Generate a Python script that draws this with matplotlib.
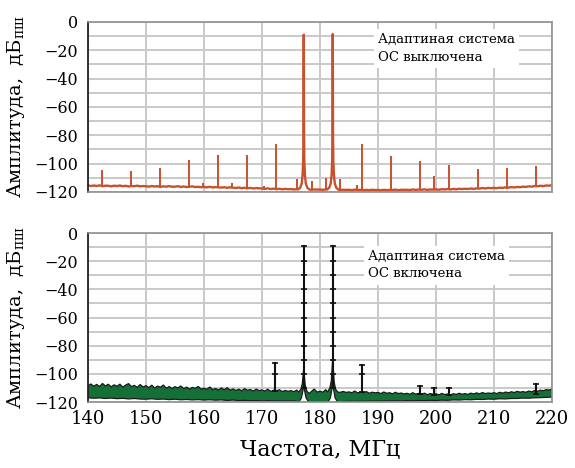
import numpy as np
import matplotlib
matplotlib.use('Agg')
import matplotlib.pyplot as plt
from matplotlib.ticker import MultipleLocator

plt.rcParams['font.family'] = ['DejaVu Serif']
plt.rcParams['mathtext.fontset'] = 'dejavuserif'

# --- данные: верхний график (ОС выключена) ---
freq_grid = np.arange(140.0, 220.01, 0.5)
floor_off = [
    -115.3, -115.9, -115.5, -115.8, -115.4, -116.0, -115.6, -115.7, -116.1, -115.6,
    -115.9, -115.5, -116.0, -115.7, -116.2, -115.8, -116.0, -115.6, -116.1, -115.9,
    -116.0, -116.3, -115.9, -116.2, -116.0, -116.4, -116.1, -116.3, -115.9, -116.4,
    -116.3, -116.0, -116.5, -116.2, -116.6, -116.3, -116.1, -116.6, -116.4, -116.7,
    -116.5, -116.8, -116.4, -116.9, -116.6, -116.8, -117.0, -116.7, -117.1, -116.8,
    -117.0, -117.3, -116.9, -117.4, -117.1, -117.5, -117.2, -117.6, -117.3, -117.5,
    -117.6, -117.9, -117.5, -118.0, -117.7, -118.1, -117.8, -118.2, -117.9, -118.1,
    -118.0, -118.3, -118.1, -118.4, -118.2, -118.4, -118.1, -118.5, -118.3, -118.4,
    -118.3, -118.6, -118.2, -118.5, -118.3, -118.6, -118.4, -118.7, -118.5, -118.6,
    -118.5, -118.8, -118.4, -118.7, -118.5, -118.9, -118.6, -118.8, -118.5, -118.7,
    -118.6, -118.9, -118.5, -118.8, -118.6, -118.7, -118.4, -118.8, -118.5, -118.6,
    -118.5, -118.7, -118.3, -118.6, -118.4, -118.5, -118.2, -118.6, -118.3, -118.4,
    -118.2, -118.5, -118.1, -118.3, -118.0, -118.3, -117.9, -118.2, -117.8, -118.0,
    -117.8, -118.0, -117.6, -117.9, -117.5, -117.7, -117.3, -117.6, -117.2, -117.4,
    -117.2, -117.4, -117.0, -117.2, -116.8, -117.0, -116.6, -116.9, -116.5, -116.7,
    -116.3, -116.5, -116.1, -116.3, -115.9, -116.0, -115.7, -115.9, -115.5, -115.6,
    -115.3,
]
spur_off_f = [142.4, 147.4, 152.4, 157.4, 159.8, 162.4, 164.8, 167.4, 170.3, 172.4,
              176.0, 178.6, 181.0, 183.4, 186.4, 187.2, 192.2, 197.2, 199.7, 202.2,
              207.2, 212.2, 217.2]
spur_off_db = [-104.5, -105.0, -103.0, -97.5, -114.0, -94.0, -113.5, -94.0, -116.0, -86.0,
               -111.0, -112.0, -110.0, -111.0, -115.0, -86.0, -94.5, -98.0, -109.0, -101.0,
               -104.0, -103.0, -102.0]
spur_off_base = [-116.5, -116.5, -117.0, -117.0, -117.0, -117.5, -117.5, -117.8, -118.0, -118.3,
                 -118.5, -118.8, -118.8, -118.8, -118.8, -118.8, -119.0, -119.0, -119.0, -118.8,
                 -118.3, -117.8, -116.8]
peak_off_f = [176.2, 176.6, 176.85, 177.0, 177.1, 177.15, 177.2, 177.25, 177.3, 177.4, 177.55, 177.8, 178.2,
              181.2, 181.6, 181.85, 182.0, 182.1, 182.15, 182.2, 182.25, 182.3, 182.4, 182.55, 182.8, 183.2]
peak_off_db = [-118.3, -117.0, -114.0, -108.0, -98.0, -80.0, -9.0, -80.0, -98.0, -108.0, -114.0, -117.0, -118.4,
               -118.4, -117.0, -114.0, -108.0, -98.0, -80.0, -8.5, -80.0, -98.0, -108.0, -114.0, -117.0, -118.5]

# --- данные: нижний график (ОС включена) ---
band_top = [
    -108.5, -107.2, -108.8, -107.5, -109.0, -106.8, -108.6, -107.4, -109.2, -107.8,
    -108.9, -107.3, -109.4, -108.0, -106.9, -109.1, -108.2, -109.6, -107.6, -109.3,
    -108.4, -109.8, -108.0, -110.1, -108.7, -109.5, -107.9, -110.2, -109.0, -110.4,
    -109.1, -110.0, -108.6, -110.5, -109.4, -110.8, -109.6, -110.3, -108.9, -110.9,
    -110.2, -111.0, -109.3, -111.2, -110.4, -111.5, -110.0, -111.3, -109.8, -111.6,
    -110.7, -111.8, -110.9, -112.0, -110.5, -111.7, -111.1, -112.3, -110.8, -111.9,
    -111.4, -112.2, -110.9, -112.5, -111.6, -112.1, -111.3, -112.6, -111.8, -112.4,
    -111.9, -112.7, -111.5, -112.9, -112.2, -112.8, -111.9, -112.6, -110.8, -112.9,
    -112.4, -113.0, -111.2, -112.7, -112.0, -112.8, -112.3, -113.1, -112.5, -113.2,
    -112.8, -113.4, -112.2, -113.6, -112.9, -113.3, -112.6, -113.8, -113.0, -113.5,
    -113.2, -114.0, -112.9, -113.8, -113.4, -114.2, -113.1, -114.0, -113.6, -114.3,
    -113.8, -114.5, -113.4, -114.4, -113.9, -114.6, -113.7, -114.8, -114.0, -114.5,
    -114.2, -114.9, -113.9, -114.7, -114.3, -115.0, -114.1, -114.6, -113.8, -114.5,
    -114.0, -114.6, -113.7, -114.3, -113.5, -114.2, -113.3, -114.0, -113.6, -113.9,
    -113.4, -114.0, -113.1, -113.7, -112.9, -113.5, -112.7, -113.3, -112.4, -113.0,
    -112.6, -113.1, -112.2, -112.8, -111.9, -112.4, -111.6, -112.0, -111.2, -111.5,
    -110.8,
]
freq_grid_1 = np.arange(140.0, 220.01, 1.0)
band_bottom = [
    -117.0, -117.3, -117.1, -117.5, -117.2, -117.6, -117.4, -117.8, -117.5, -117.9,
    -118.0, -117.7, -118.1, -117.9, -118.3, -118.0, -118.4, -118.2, -118.5, -118.3,
    -118.6, -118.4, -118.7, -118.5, -118.9, -118.6, -119.0, -118.8, -119.1, -118.9,
    -119.2, -119.0, -119.3, -119.1, -119.4, -119.2, -119.5, -119.6, -119.8, -119.7,
    -119.8, -119.7, -119.9, -119.6, -119.7, -119.5, -119.6, -119.4, -119.5, -119.3,
    -119.4, -119.2, -119.3, -119.1, -119.2, -119.0, -119.1, -118.9, -119.0, -118.8,
    -118.9, -118.7, -118.8, -118.5, -118.6, -118.3, -118.4, -118.1, -118.2, -117.9,
    -118.0, -117.7, -117.8, -117.5, -117.5, -117.2, -117.3, -117.0, -116.9, -116.7,
    -116.5,
]
skirt_top_f = [176.3, 176.7, 176.95, 177.1, 177.2, 177.3, 177.45, 177.7, 178.1,
               181.3, 181.7, 181.95, 182.1, 182.2, 182.3, 182.45, 182.7, 183.1]
skirt_top_db = [-113.0, -111.0, -107.0, -100.0, -96.0, -101.0, -108.0, -112.0, -114.0,
                -113.0, -110.0, -105.0, -95.0, -88.0, -96.0, -106.0, -111.0, -113.0]
skirt_bot_f = [176.3, 176.8, 177.05, 177.2, 177.35, 177.6, 178.1,
               181.3, 181.8, 182.05, 182.2, 182.35, 182.6, 183.1]
skirt_bot_db = [-120.5, -117.0, -112.0, -107.0, -112.0, -117.0, -120.5,
                -120.5, -117.0, -111.0, -104.0, -111.0, -117.0, -120.5]
on_peaks_f = [177.2, 182.2, 172.2, 187.2, 197.2, 199.7, 202.2, 217.3]
on_peaks_db = [
    [-110, -100, -90, -80, -70, -60, -50, -40, -30, -20, -9],
    [-110, -100, -90, -80, -70, -60, -50, -40, -30, -20, -9],
    [-112, -100, -92.5],
    [-113, -100, -93.5],
    [-114.5, -108.5],
    [-115, -110.3],
    [-115, -109.7],
    [-114, -107.2],
]

y_ticks = [0, -20, -40, -60, -80, -100, -120]
x_ticks = [140, 150, 160, 170, 180, 190, 200, 210, 220]

c_off = '#c9502c'
c_on = '#157038'
grid_c = '#c9c9c9'

fig = plt.figure(figsize=(5.75, 4.68), dpi=100)
ax1 = fig.add_axes([0.153, 0.590, 0.807, 0.363])
ax2 = fig.add_axes([0.153, 0.141, 0.807, 0.361])


def style(ax):
    ax.set_xlim(140, 220)
    ax.set_ylim(-120, 0)
    ax.set_xticks(x_ticks)
    ax.set_yticks(y_ticks)
    ax.yaxis.set_minor_locator(MultipleLocator(10))
    ax.grid(True, which='major', color=grid_c, lw=1.4)
    ax.grid(True, which='minor', axis='y', color=grid_c, lw=1.4)
    ax.set_axisbelow(True)
    ax.set_yticklabels(['0' if v == 0 else '\u2212%d' % -v for v in y_ticks])
    ax.tick_params(which='both', length=0, labelsize=11.5, pad=7)
    for s in ['top', 'right', 'bottom']:
        ax.spines[s].set_color('#909090')
        ax.spines[s].set_linewidth(1.2)
    ax.spines['left'].set_color('#222222')
    ax.spines['left'].set_linewidth(1.3)


style(ax1)
style(ax2)

# верхний график
fg = np.asarray(freq_grid)
fl = np.asarray(floor_off)
keep = ~(((fg > 176.1) & (fg < 178.3)) | ((fg > 181.1) & (fg < 183.3)))
xs = np.concatenate([fg[keep], peak_off_f])
ys = np.concatenate([fl[keep], peak_off_db])
order = np.argsort(xs)
ax1.plot(xs[order], ys[order], color=c_off, lw=1.7)
ax1.vlines(spur_off_f, spur_off_base, spur_off_db, color=c_off, lw=1.4)
ax1.tick_params(axis='x', labelbottom=False)
ax1.text(0.625, 0.935, 'Адаптиная система\nОС выключена', transform=ax1.transAxes,
         ha='left', va='top', fontsize=9.5, linespacing=1.45,
         bbox=dict(facecolor='white', edgecolor='none', pad=3))
ax1.set_ylabel('Амплитуда,  дБ$_{\\mathrm{пш}}$', fontsize=14, labelpad=5)

# нижний график
bt = np.asarray(band_top)
keep2 = ~(((fg > 176.2) & (fg < 178.2)) | ((fg > 181.2) & (fg < 183.2)))
ux = np.concatenate([fg[keep2], skirt_top_f])
uy = np.concatenate([bt[keep2], skirt_top_db])
o = np.argsort(ux)
ux, uy = ux[o], uy[o]
g1 = np.asarray(freq_grid_1)
bb = np.asarray(band_bottom)
keep3 = ~(((g1 > 176.2) & (g1 < 178.2)) | ((g1 > 181.2) & (g1 < 183.2)))
lx = np.concatenate([g1[keep3], skirt_bot_f])
ly = np.concatenate([bb[keep3], skirt_bot_db])
o = np.argsort(lx)
lx, ly = lx[o], ly[o]
ax2.fill(np.concatenate([ux, lx[::-1]]), np.concatenate([uy, ly[::-1]]),
         facecolor=c_on, edgecolor='#1a1a1a', lw=0.9, zorder=2)
for f, lev in zip(on_peaks_f, on_peaks_db):
    ax2.plot([f] * len(lev), lev, color='#111111', lw=1.5, marker='_', ms=4, mew=1.2, zorder=3)
ax2.text(0.603, 0.9, 'Адаптиная система\nОС включена', transform=ax2.transAxes,
         ha='left', va='top', fontsize=9.5, linespacing=1.45,
         bbox=dict(facecolor='white', edgecolor='none', pad=3))
ax2.set_ylabel('Амплитуда,  дБ$_{\\mathrm{пш}}$', fontsize=14, labelpad=5)
ax2.set_xlabel('Частота, МГц', fontsize=16, labelpad=8)
ax2.tick_params(axis='x', labelsize=13, pad=6)

fig.savefig('out.png', dpi=100)
